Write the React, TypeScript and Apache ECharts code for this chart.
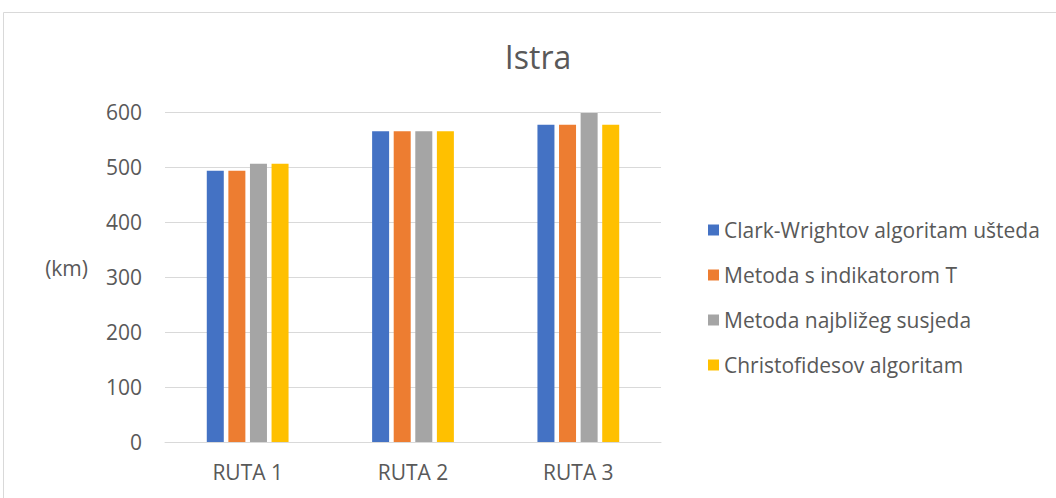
import React, { useEffect, useRef } from "react";
import * as echarts from "echarts";

const categories = ["RUTA 1", "RUTA 2", "RUTA 3"];
const seriesNames = [
  "Clark-Wrightov algoritam ušteda",
  "Metoda s indikatorom T",
  "Metoda najbližeg susjeda",
  "Christofidesov algoritam",
];
const clarkWright = [493, 565, 577];
const indikatorT = [493, 565, 577];
const najblizi = [506, 565, 598];
const christofides = [506, 565, 577];
const seriesValues = [clarkWright, indikatorT, najblizi, christofides];
const colors = ["#4472C4", "#ED7D31", "#A5A5A5", "#FFC000"];
const yTicks = { min: 0, max: 600, interval: 100 };

const FONT = "'Open Sans', 'Noto Sans', sans-serif";
const TXT = "#595959";

export default function App() {
  const ref = useRef<HTMLDivElement>(null);
  useEffect(() => {
    document.body.style.margin = "0";
    const chart = echarts.init(ref.current!, null, { renderer: "svg" });
    chart.setOption({
      animation: false,
      backgroundColor: "#ffffff",
      textStyle: { fontFamily: FONT, color: TXT },
      title: {
        text: "Istra",
        left: 533,
        top: 35,
        textAlign: "center",
        textStyle: { fontFamily: FONT, fontSize: 32, fontWeight: "normal", color: TXT },
      },
      graphic: [
        {
          type: "rect",
          shape: { x: 3.5, y: 12.5, width: 1100, height: 600 },
          style: { fill: "none", stroke: "#d9d9d9", lineWidth: 1 },
          silent: true,
        },
        {
          type: "text",
          x: 88,
          y: 268,
          style: {
            text: "(km)",
            fontFamily: FONT,
            fontSize: 21,
            fill: TXT,
            verticalAlign: "middle",
            align: "right",
          },
        },
      ],
      legend: {
        orient: "vertical",
        left: 703,
        top: 214,
        itemWidth: 11,
        itemHeight: 11,
        itemGap: 23,
        icon: "rect",
        data: seriesNames,
        textStyle: { fontFamily: FONT, fontSize: 21, color: TXT, lineHeight: 22 },
      },
      grid: { left: 165, right: 1056 - 661, top: 112, bottom: 498 - 442, containLabel: false },
      xAxis: {
        type: "category",
        data: categories,
        axisLine: { lineStyle: { color: "#d9d9d9" } },
        axisTick: { show: false },
        axisLabel: { fontFamily: FONT, fontSize: 21, color: TXT, margin: 19 },
      },
      yAxis: {
        type: "value",
        min: yTicks.min,
        max: yTicks.max,
        interval: yTicks.interval,
        axisLine: { show: false },
        axisTick: { show: false },
        splitLine: { lineStyle: { color: "#d9d9d9" } },
        axisLabel: { fontFamily: FONT, fontSize: 21, color: TXT, margin: 23 },
      },
      series: seriesNames.map((name, i) => ({
        name,
        type: "bar",
        data: seriesValues[i],
        barWidth: 17,
        barGap: "27%",
        itemStyle: { color: colors[i] },
      })),
    });
    return () => chart.dispose();
  }, []);
  return <div ref={ref} style={{ width: 1056, height: 498 }} />;
}
